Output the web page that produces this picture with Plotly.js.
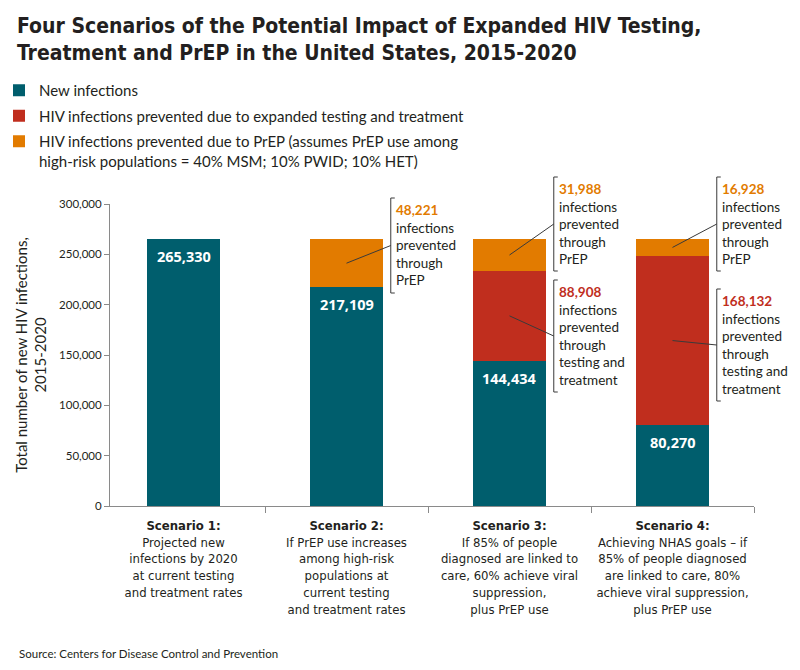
<!DOCTYPE html>
<html>
<head>
<meta charset="utf-8">
<script src="https://cdn.plot.ly/plotly-3.0.1.min.js"></script>
<style>
  html, body { margin: 0; padding: 0; background: #ffffff; }
  #chart { width: 800px; height: 670px; }
</style>
</head>
<body>
<div id="chart"></div>
<script>
// ---------------- DATA ----------------
const categories = ['Scenario 1', 'Scenario 2', 'Scenario 3', 'Scenario 4'];
const scenarioDescriptions = [
  'Projected new<br>infections by 2020<br>at current testing<br>and treatment rates',
  'If PrEP use increases<br>among high-risk<br>populations at<br>current testing<br>and treatment rates',
  'If 85% of people<br>diagnosed are linked to<br>care, 60% achieve viral<br>suppression,<br>plus PrEP use',
  'Achieving NHAS goals – if<br>85% of people diagnosed<br>are linked to care, 80%<br>achieve viral suppression,<br>plus PrEP use'
];
const newInfections       = [265330, 217109, 144434, 80270];
const preventedTesting    = [0, 0, 88908, 168132];
const preventedPrEP       = [0, 48221, 31988, 16928];

const seriesNames = [
  'New infections',
  'HIV infections prevented due to expanded testing and treatment',
  'HIV infections prevented due to PrEP (assumes PrEP use among<br>high-risk populations = 40% MSM; 10% PWID; 10% HET)'
];
const yTickVals = [0, 50000, 100000, 150000, 200000, 250000, 300000];

// ---------------- STYLE ----------------
const TEAL = '#005E6D', RED = '#C02E1E', ORANGE = '#E27B00';
const TXT = '#231F20';
const BODY_FONT = 'Lato, "Open Sans", sans-serif';
const NARROW_FONT = '"Liberation Sans Narrow", "DejaVu Sans Condensed", Lato, sans-serif';

// plot geometry (pixels)
const M = {l: 110, r: 46, t: 204, b: 164, autoexpand: false};
const FIG_W = 800, FIG_H = 670;
const PW = FIG_W - M.l - M.r, PH = FIG_H - M.t - M.b;
const XR = [-0.451, 3.5], YR = [0, 300000];
const BAR_W = 0.445;

// helpers: data -> paper, pixel offsets -> paper
const xp = v => (v - XR[0]) / (XR[1] - XR[0]);
const yp = v => (v - YR[0]) / (YR[1] - YR[0]);
const dxp = px => px / PW;
const dyp = py => py / PH;
const fmt = n => n.toLocaleString('en-US');

// ---------------- TRACES ----------------
const traces = [
  {type: 'bar', name: seriesNames[0], x: categories, y: newInfections,
   marker: {color: TEAL}, width: BAR_W, legendgroup: 'a', hoverinfo: 'skip'},
  {type: 'bar', name: seriesNames[1], x: categories, y: preventedTesting,
   marker: {color: RED}, width: BAR_W, legendgroup: 'b', hoverinfo: 'skip'},
  {type: 'bar', name: seriesNames[2], x: categories, y: preventedPrEP,
   marker: {color: ORANGE}, width: BAR_W, legendgroup: 'c', hoverinfo: 'skip'}
];

// ---------------- ANNOTATIONS ----------------
const annotations = [];
const shapes = [];

// value labels inside teal bars
categories.forEach((c, i) => {
  annotations.push({
    xref: 'x', yref: 'y', x: c, y: newInfections[i],
    yanchor: 'top', yshift: -6, showarrow: false,
    text: '<b>' + fmt(newInfections[i]) + '</b>',
    font: {family: '"Open Sans", sans-serif', size: 14.5, color: '#ffffff'}
  });
});

// callouts: scenario index, segment, bracket top (px below plot top), bracket height (px)
const callouts = [
  {i: 1, seg: 'prep', top: -6,  h: 95},
  {i: 2, seg: 'prep', top: -27, h: 94},
  {i: 2, seg: 'test', top: 76,  h: 112},
  {i: 3, seg: 'prep', top: -27, h: 94},
  {i: 3, seg: 'test', top: 85,  h: 112}
];
callouts.forEach(c => {
  const base = newInfections[c.i];
  let lo, hi, val, color, lines;
  if (c.seg === 'prep') {
    lo = base + preventedTesting[c.i]; hi = lo + preventedPrEP[c.i];
    val = preventedPrEP[c.i]; color = ORANGE;
    lines = 'infections<br>prevented<br>through<br>PrEP';
  } else {
    lo = base; hi = base + preventedTesting[c.i];
    val = preventedTesting[c.i]; color = RED;
    lines = 'infections<br>prevented<br>through<br>testing and<br>treatment';
  }
  const bx = xp(c.i + BAR_W / 2) + dxp(8);
  const top = 1 - dyp(c.top);
  const bot = top - dyp(c.h);
  const mid = (top + bot) / 2;
  shapes.push({
    type: 'path', xref: 'paper', yref: 'paper',
    path: `M${bx + dxp(4)},${top} L${bx},${top} L${bx},${bot} L${bx + dxp(4)},${bot}`,
    line: {color: '#3a3a3a', width: 1}
  });
  shapes.push({
    type: 'line', xref: 'paper', yref: 'paper',
    x0: xp(c.i), y0: yp((lo + hi) / 2), x1: bx, y1: mid,
    line: {color: '#3a3a3a', width: 1}
  });
  annotations.push({
    xref: 'paper', yref: 'paper', x: bx + dxp(3), y: top - dyp(2),
    xanchor: 'left', yanchor: 'top', align: 'left', showarrow: false,
    text: `<b style="color:${color}">${fmt(val)}</b><br>${lines}`,
    font: {family: BODY_FONT, size: 13.5, color: TXT}
  });
});

// source
annotations.push({
  xref: 'paper', yref: 'paper', x: -dxp(M.l - 17), y: -dyp(653 - (FIG_H - M.b)),
  xanchor: 'left', yanchor: 'middle', showarrow: false,
  text: 'Source: Centers for Disease Control and Prevention',
  font: {family: BODY_FONT, size: 11.5, color: TXT}
});

// ---------------- LAYOUT ----------------
const layout = {
  width: FIG_W, height: FIG_H,
  margin: M,
  paper_bgcolor: '#ffffff', plot_bgcolor: '#ffffff',
  barmode: 'stack', bargap: 0,
  font: {family: BODY_FONT, color: TXT},
  title: {
    text: '<b>Four Scenarios of the Potential Impact of Expanded HIV Testing,<br>Treatment and PrEP in the United States, 2015-2020</b>',
    xref: 'container', yref: 'container', x: 17 / FIG_W, xanchor: 'left',
    y: 1 - 33 / FIG_H, yanchor: 'top',
    font: {family: NARROW_FONT, size: 21, color: TXT}
  },
  showlegend: true,
  legend: {
    x: -dxp(M.l + 1), xanchor: 'left', y: 1 + dyp(M.t - 74), yanchor: 'top',
    traceorder: 'grouped', tracegroupgap: 3, valign: 'top',
    font: {family: BODY_FONT, size: 15, color: TXT},
    bgcolor: 'rgba(0,0,0,0)', itemclick: false
  },
  xaxis: {
    type: 'category', range: XR, tickson: 'boundaries',
    tickmode: 'array', tickvals: categories,
    ticktext: categories.map((c, i) => '<b>' + c + ':</b><br>' + scenarioDescriptions[i]),
    tickangle: 0, ticklabelstandoff: 7,
    ticks: 'outside', ticklen: 6, tickcolor: '#8a8a8a',
    showline: true, linecolor: '#8a8a8a', linewidth: 1,
    showgrid: false, zeroline: false, fixedrange: true,
    tickfont: {family: NARROW_FONT, size: 13, color: TXT}
  },
  yaxis: {
    range: YR, tickmode: 'array', tickvals: yTickVals,
    ticktext: yTickVals.map(fmt),
    ticks: 'outside', ticklen: 5, tickcolor: '#8a8a8a',
    showline: true, linecolor: '#8a8a8a', linewidth: 1,
    showgrid: false, zeroline: false, fixedrange: true,
    tickfont: {family: BODY_FONT, size: 11.5, color: TXT},
    title: {text: 'Total number of new HIV infections,<br>2015-2020', standoff: 8,
            font: {family: BODY_FONT, size: 15, color: TXT}}
  },
  annotations: annotations,
  shapes: shapes
};

Plotly.newPlot('chart', traces, layout, {displayModeBar: false, staticPlot: true});
</script>
</body>
</html>
